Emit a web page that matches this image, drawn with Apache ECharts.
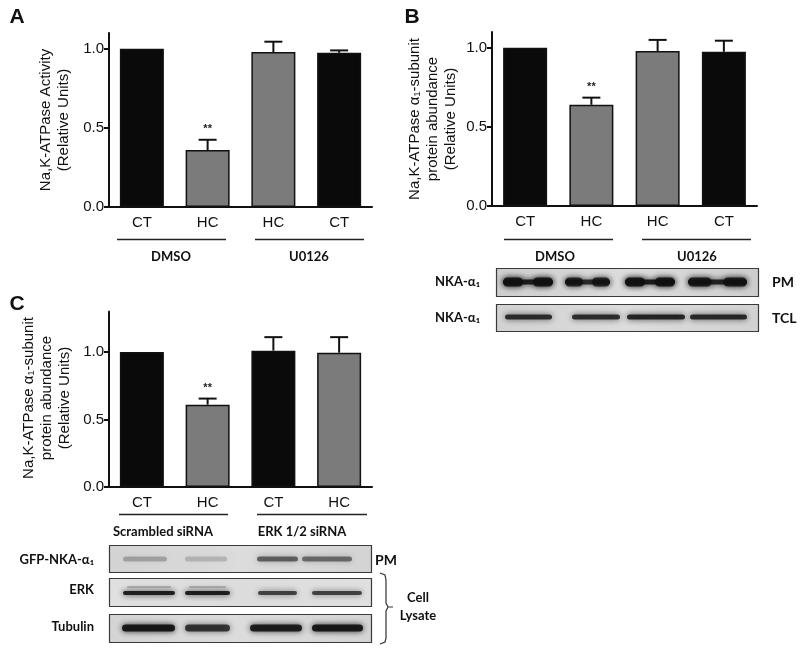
<!DOCTYPE html>
<html>
<head>
    <meta charset="utf-8" />
    <title>NKA figure</title>
    <script type="text/javascript" src="https://cdn.jsdelivr.net/npm/echarts@6/dist/echarts.min.js"></script>
    <style>
        html, body { margin: 0; padding: 0; background: #fff; }
        #main { width: 800px; height: 650px; }
    </style>
</head>
<body>
    <div id="main"></div>
    <script type="text/javascript">
        // bar data, panel A/B/C
        var catsA = ['CT', 'HC', 'HC', 'CT'];
        var valsA = [1.0, 0.36, 0.98, 0.975];
        var errA = [0, 0.065, 0.065, 0.015];
        var sigA = ['', '**', '', ''];

        var catsB = ['CT', 'HC', 'HC', 'CT'];
        var valsB = [1.0, 0.64, 0.98, 0.975];
        var errB = [0, 0.045, 0.07, 0.07];
        var sigB = ['', '**', '', ''];

        var catsC = ['CT', 'HC', 'CT', 'HC'];
        var valsC = [1.0, 0.61, 1.01, 0.995];
        var errC = [0, 0.045, 0.10, 0.115];
        var sigC = ['', '**', '', ''];

        var yTicksAB = [0, 0.5, 1.0];
        var yTicksC = [0, 0.5, 1.0];

        // blot band intensities (0..1), lanes left to right
        var bandsB_PM = [0.9, 0.8, 0.9, 0.85];
        var bandsB_TCL = [0.8, 0.8, 0.85, 0.82];
        var bandsC_GFP = [0.25, 0.18, 0.55, 0.5];
        var bandsC_ERK = [0.9, 0.9, 0.7, 0.7];
        var bandsC_Tub = [0.92, 0.75, 0.88, 0.92];

        var BLACK = '#0a0a0a';
        var GRAY = '#7b7b7b';
        var AXIS_FONT = 'Liberation Sans, Arial, sans-serif';
        var LBL_FONT = 'Lato, Open Sans, sans-serif';

        function colorFor(c) { return c == 'CT' ? BLACK : GRAY; }

        function makeX(gi, cats) {
            return {
                type: 'category', gridIndex: gi, data: cats,
                axisLine: { lineStyle: { color: '#111', width: 2 } },
                axisTick: { alignWithLabel: true, length: 5, lineStyle: { color: '#111', width: 2 } },
                axisLabel: { fontSize: 15, color: '#111', margin: 8, fontFamily: AXIS_FONT }
            };
        }
        function makeY(gi, max, ticks) {
            return {
                type: 'value', gridIndex: gi, min: 0, max: max, interval: 0.5,
                splitLine: { show: false },
                axisLine: { show: true, lineStyle: { color: '#111', width: 2 } },
                axisTick: { show: true, length: 5, customValues: ticks, lineStyle: { color: '#111', width: 2 } },
                axisLabel: {
                    fontSize: 15, color: '#111', margin: 5, fontFamily: AXIS_FONT, customValues: ticks,
                    formatter: function (v) { return v.toFixed(1); }
                }
            };
        }
        function barSeries(gi, cats, vals) {
            return {
                type: 'bar', xAxisIndex: gi, yAxisIndex: gi, barWidth: 44,
                data: vals.map(function (v, i) {
                    return { value: v, itemStyle: { color: colorFor(cats[i]), borderColor: '#111', borderWidth: 1.5 } };
                }),
                animation: false
            };
        }
        function errSeries(gi, vals, errs, sig) {
            return {
                type: 'custom', xAxisIndex: gi, yAxisIndex: gi, z: 5,
                data: vals.map(function (v, i) { return [i, v, errs[i]]; }),
                renderItem: function (params, api) {
                    var i = api.value(0), v = api.value(1), e = api.value(2);
                    var p0 = api.coord([i, v]);
                    var p1 = api.coord([i, v + e]);
                    var kids = [];
                    if (e > 0) {
                        kids.push({ type: 'line', shape: { x1: p0[0], y1: p0[1], x2: p1[0], y2: p1[1] }, style: { stroke: '#111', lineWidth: 2 } });
                        kids.push({ type: 'line', shape: { x1: p1[0] - 9, y1: p1[1], x2: p1[0] + 9, y2: p1[1] }, style: { stroke: '#111', lineWidth: 2 } });
                    }
                    if (sig[i]) {
                        kids.push({ type: 'text', x: p1[0], y: p1[1] - 11, style: { text: sig[i], align: 'center', verticalAlign: 'middle', font: 'bold 11px ' + AXIS_FONT, fill: '#222' } });
                    }
                    return { type: 'group', children: kids };
                },
                animation: false
            };
        }

        // ---- graphic helpers (layout only) ----
        var g = [];
        function txt(x, y, s, font, align, rot) {
            g.push({
                type: 'text', x: x, y: y, rotation: rot || 0,
                style: { text: s, font: font, fill: '#111', align: align || 'center', verticalAlign: 'middle', lineHeight: 18 }
            });
        }
        function hline(x1, x2, y) {
            g.push({ type: 'line', shape: { x1: x1, y1: y + 0.5, x2: x2, y2: y + 0.5 }, style: { stroke: '#222', lineWidth: 1.3 } });
        }
        function box(x, y, w, h, fill) {
            g.push({
                type: 'rect', shape: { x: x + 0.5, y: y + 0.5, width: w, height: h },
                style: {
                    fill: {
                        type: 'linear', x: 0, y: 0, x2: 1, y2: 0,
                        colorStops: [{ offset: 0, color: fill }, { offset: 0.5, color: '#dcdcdc' }, { offset: 1, color: fill }]
                    },
                    stroke: '#3a3a3a', lineWidth: 1.2
                }
            });
        }
        function band(x1, x2, cy, h, a, dumb) {
            var col = 'rgba(15,15,15,' + a + ')';
            g.push({ type: 'rect', shape: { x: x1, y: cy - h / 2, width: x2 - x1, height: h, r: h / 2 }, style: { fill: col, shadowBlur: 6, shadowColor: col } });
            if (dumb) {
                var eh = h + 4, ew = (x2 - x1) * 0.4;
                g.push({ type: 'rect', shape: { x: x1, y: cy - eh / 2, width: ew, height: eh, r: eh / 2 }, style: { fill: col, shadowBlur: 6, shadowColor: col } });
                g.push({ type: 'rect', shape: { x: x2 - ew, y: cy - eh / 2, width: ew, height: eh, r: eh / 2 }, style: { fill: col, shadowBlur: 6, shadowColor: col } });
            }
        }

        var titleFont = '15px ' + AXIS_FONT;
        var boldLbl = 'bold 13px ' + LBL_FONT;

        // panel letters
        txt(17, 17, 'A', 'bold 21px ' + AXIS_FONT);
        txt(412, 17, 'B', 'bold 21px ' + AXIS_FONT);
        txt(17, 304, 'C', 'bold 21px ' + AXIS_FONT);

        // y-axis titles
        txt(55, 120, 'Na,K-ATPase Activity\n(Relative Units)', titleFont, 'center', Math.PI / 2);
        txt(433, 119, 'Na,K-ATPase \u03b1\u2081-subunit\nprotein abundance\n(Relative Units)', titleFont, 'center', Math.PI / 2);
        txt(47, 398, 'Na,K-ATPase \u03b1\u2081-subunit\nprotein abundance\n(Relative Units)', titleFont, 'center', Math.PI / 2);

        // group lines and labels
        hline(117, 226, 239); hline(255, 364, 239);
        txt(171, 257, 'DMSO', boldLbl); txt(309, 257, 'U0126', boldLbl);
        hline(504, 613, 239); hline(642, 751, 239);
        txt(555, 257, 'DMSO', boldLbl); txt(697, 257, 'U0126', boldLbl);
        hline(119, 228, 514); hline(257, 367, 514);
        txt(163, 532, 'Scrambled siRNA', boldLbl); txt(302, 532, 'ERK 1/2 siRNA', boldLbl);

        // blots panel B
        var lanesB_PM = [[503, 553], [565, 610], [625, 675], [688, 747]];
        var lanesB_TCL = [[505, 552], [572, 620], [627, 685], [690, 747]];
        box(496, 268, 262, 28, '#cdcdcd');
        box(496, 304, 262, 27, '#d2d2d2');
        bandsB_PM.forEach(function (a, i) { band(lanesB_PM[i][0], lanesB_PM[i][1], 282, 5, a, true); });
        bandsB_TCL.forEach(function (a, i) { band(lanesB_TCL[i][0], lanesB_TCL[i][1], 317, 5, a, false); });
        txt(480, 282, 'NKA-\u03b1\u2081', boldLbl, 'right');
        txt(480, 318, 'NKA-\u03b1\u2081', boldLbl, 'right');
        txt(772, 282, 'PM', 'bold 14px ' + LBL_FONT, 'left');
        txt(772, 318, 'TCL', 'bold 14px ' + LBL_FONT, 'left');

        // blots panel C
        var lanesC_GFP = [[123, 167], [185, 227], [257, 298], [302, 352]];
        var lanesC_ERK = [[123, 175], [185, 230], [258, 297], [312, 362]];
        var lanesC_Tub = [[122, 175], [185, 230], [250, 302], [312, 363]];
        box(109, 545, 262, 27, '#d3d3d3');
        box(109, 578, 262, 28, '#e0e0e0');
        box(109, 614, 262, 28, '#d4d4d4');
        bandsC_GFP.forEach(function (a, i) { band(lanesC_GFP[i][0], lanesC_GFP[i][1], 559, 5, a, false); });
        bandsC_ERK.forEach(function (a, i) {
            band(lanesC_ERK[i][0], lanesC_ERK[i][1], 593, 4, a, false);
            if (i < 2) band(lanesC_ERK[i][0] + 4, lanesC_ERK[i][1] - 4, 587, 1.5, a * 0.3, false);
        });
        bandsC_Tub.forEach(function (a, i) { band(lanesC_Tub[i][0], lanesC_Tub[i][1], 628, 7, a, false); });
        txt(94, 560, 'GFP-NKA-\u03b1\u2081', boldLbl, 'right');
        txt(94, 590, 'ERK', boldLbl, 'right');
        txt(94, 627, 'Tubulin', boldLbl, 'right');
        txt(375, 560, 'PM', 'bold 14px ' + LBL_FONT, 'left');
        g.push({
            type: 'polyline',
            shape: { points: [[380, 573], [385, 575], [386, 580], [386, 603], [388, 607], [393, 607], [388, 607], [386, 611], [386, 638], [385, 642], [380, 644]] },
            style: { stroke: '#333', lineWidth: 1.2, fill: null }
        });
        txt(418, 598, 'Cell', 'bold 13px ' + LBL_FONT);
        txt(418, 616, 'Lysate', 'bold 13px ' + LBL_FONT);

        var myChart = echarts.init(document.getElementById('main'), null, { renderer: 'canvas' });
        var option = {
            backgroundColor: '#ffffff',
            animation: false,
            grid: [
                { left: 109, top: 33, width: 263, height: 174 },
                { left: 492, top: 32, width: 265, height: 174 },
                { left: 109, top: 311.5, width: 263, height: 175.5 }
            ],
            xAxis: [makeX(0, catsA), makeX(1, catsB), makeX(2, catsC)],
            yAxis: [makeY(0, 1.1, yTicksAB), makeY(1, 1.1, yTicksAB), makeY(2, 1.3, yTicksC)],
            series: [
                barSeries(0, catsA, valsA), errSeries(0, valsA, errA, sigA),
                barSeries(1, catsB, valsB), errSeries(1, valsB, errB, sigB),
                barSeries(2, catsC, valsC), errSeries(2, valsC, errC, sigC)
            ],
            graphic: { elements: g }
        };
        myChart.setOption(option);
    </script>
</body>
</html>
